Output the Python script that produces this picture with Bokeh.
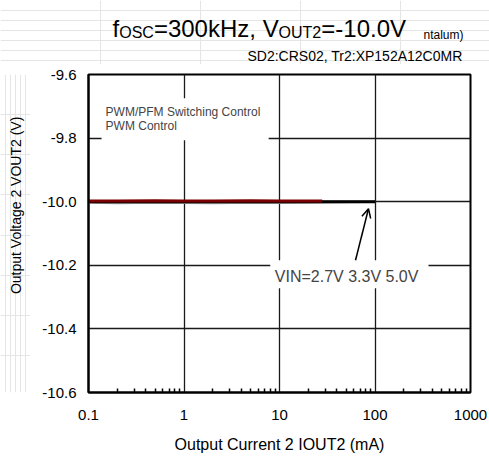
import math
from bokeh.plotting import figure
from bokeh.layouts import column, row
from bokeh.models import (FixedTicker, PrintfTickFormatter, Label, BoxAnnotation,
                          Arrow, OpenHead)
from bokeh.embed import file_html
from bokeh.resources import INLINE

# ---- data ----
iout_27 = [0.1, 0.2, 0.5, 1, 2, 5, 10, 20, 28]
vout_27 = [-9.998, -9.998, -9.997, -9.998, -9.998, -9.997, -9.998, -9.998, -9.998]
iout_33 = [0.1, 0.2, 0.5, 1, 2, 5, 10, 20, 50, 100]
vout_33 = [-10.0, -10.0, -10.0, -10.0, -10.0, -10.0, -10.0, -10.0, -10.0, -10.0]
iout_50 = [0.1, 0.2, 0.5, 1, 2, 5, 10, 20, 50, 100]
vout_50 = [-10.003, -10.005, -10.003, -10.004, -10.005, -10.003, -10.004, -10.003, -10.002, -10.001]

x_ticks = [0.1, 1, 10, 100, 1000]
x_tick_labels = ["0.1", "1", "10", "100", "1000"]
x_minor = [m * d for d in [0.1, 1, 10, 100] for m in [2, 3, 4, 5, 6, 7, 8, 9]]
y_ticks = [-10.6, -10.4, -10.2, -10.0, -9.8, -9.6]

FONT = "Liberation Sans"
W, HEAD_H, LEFT_W = 489, 64, 30
MAIN_H = 460 - HEAD_H


def blank_fig(w, h):
    f = figure(width=w, height=h, x_range=(0, w), y_range=(h, 0),
               x_axis_location=None, y_axis_location=None,
               output_backend="svg", toolbar_location=None,
               min_border=0, outline_line_color=None)
    f.title.visible = False
    f.background_fill_color = "white"
    f.border_fill_color = "white"
    return f


def put(f, text, x, y, size, align="left", baseline="alphabetic", angle=0.0, dy=None):
    # dy: small correction of the baseline position (pixels, downward positive)
    if dy is None:
        dy = -0.4 * size
    f.add_layout(Label(x=x, y=y + dy, text=text, text_align=align, text_baseline=baseline,
                       angle=angle, text_font=FONT, text_font_size=f"{size}px",
                       text_color="black"))


# ---- header with the titles ----
head = blank_fig(W, HEAD_H)
put(head, "f", 112, 38, 24)
put(head, "OSC", 118.7, 38, 16)
put(head, "=300kHz, V", 153.4, 38, 24)
put(head, "OUT2", 278.1, 38, 16)
put(head, "=-10.0V", 320.8, 38, 24)
put(head, "ntalum)", 463, 39.5, 12, "right")
put(head, "SD2:CRS02, Tr2:XP152A12C0MR", 462, 61, 14, "right")

# ---- left strip with the y axis title ----
left = blank_fig(LEFT_W, MAIN_H)
put(left, "Output Voltage 2 VOUT2 (V)", 15, 205 - HEAD_H, 14, "center", "middle",
    math.pi / 2, dy=22)

# ---- main chart ----
p = figure(width=W - LEFT_W, height=MAIN_H, x_axis_type="log",
           x_range=(0.1, 1000), y_range=(-10.6, -9.6),
           output_backend="svg", toolbar_location=None,
           min_border_left=88 - LEFT_W, min_border_right=19,
           min_border_top=74 - HEAD_H, min_border_bottom=68)
p.title.visible = False
p.background_fill_color = "white"
p.border_fill_color = "white"
p.outline_line_color = "black"
p.outline_line_width = 2

xt = FixedTicker(ticks=x_ticks, minor_ticks=x_minor)
yt = FixedTicker(ticks=y_ticks)
p.xaxis.ticker = xt
p.yaxis.ticker = yt
p.xaxis.major_label_overrides = {t: l for t, l in zip(x_ticks, x_tick_labels)}
p.yaxis.formatter = PrintfTickFormatter(format="%.1f")
for ax in (p.xaxis, p.yaxis):
    ax.axis_line_color = "black"
    ax.axis_line_width = 2
    ax.major_tick_in = 0
    ax.major_tick_out = 0
    ax.major_label_text_font = FONT
    ax.major_label_text_font_size = "15px"
    ax.major_label_text_color = "black"
p.xaxis.minor_tick_in = 4
p.xaxis.minor_tick_out = 0
p.xaxis.minor_tick_line_color = "black"
p.xaxis.minor_tick_line_width = 1.5
p.yaxis.minor_tick_in = 0
p.yaxis.minor_tick_out = 0
p.xaxis.major_label_standoff = 17
p.yaxis.major_label_standoff = 12
p.xaxis.axis_label = "Output Current 2 IOUT2 (mA)"
p.xaxis.axis_label_text_font = FONT
p.xaxis.axis_label_text_font_size = "16px"
p.xaxis.axis_label_text_font_style = "normal"
p.xaxis.axis_label_text_color = "black"
p.xaxis.axis_label_standoff = 13

p.xgrid.ticker = xt
p.ygrid.ticker = yt
for g in (p.xgrid, p.ygrid):
    g.grid_line_color = "#1a1a1a"
    g.grid_line_width = 1.3

# series
p.line(iout_50, vout_50, line_color="#9a9a9a", line_width=2)
p.line(iout_33, vout_33, line_color="black", line_width=3)
p.line(iout_27, vout_27, line_color="#7a0000", line_width=3)

# white boxes behind the in-plot texts
p.add_layout(BoxAnnotation(left=0.137, right=7.7, top=-9.675, bottom=-9.807,
                           fill_color="white", fill_alpha=1, line_alpha=0))
p.add_layout(BoxAnnotation(left=8.0, right=363, top=-10.184, bottom=-10.272,
                           fill_color="white", fill_alpha=1, line_alpha=0))

p.add_layout(Label(x=0.151, y=-9.717, text="PWM/PFM Switching Control",
                   text_font=FONT, text_font_size="12px", text_baseline="alphabetic"))
p.add_layout(Label(x=0.151, y=-9.761, text="PWM  Control",
                   text_font=FONT, text_font_size="12px", text_baseline="alphabetic"))

p.add_layout(Label(x=285, y=-10.236, text="VIN=2.7V 3.3V 5.0V", text_align="right",
                   text_font=FONT, text_font_size="16px", text_baseline="alphabetic"))
p.add_layout(Arrow(end=OpenHead(size=9, line_width=1.5, line_color="black"),
                   x_start=62.5, y_start=-10.184, x_end=85.5, y_end=-10.022,
                   line_width=1.5, line_color="black"))

layout = column(head, row(left, p))
open("out.html", "w").write(file_html(layout, INLINE))
